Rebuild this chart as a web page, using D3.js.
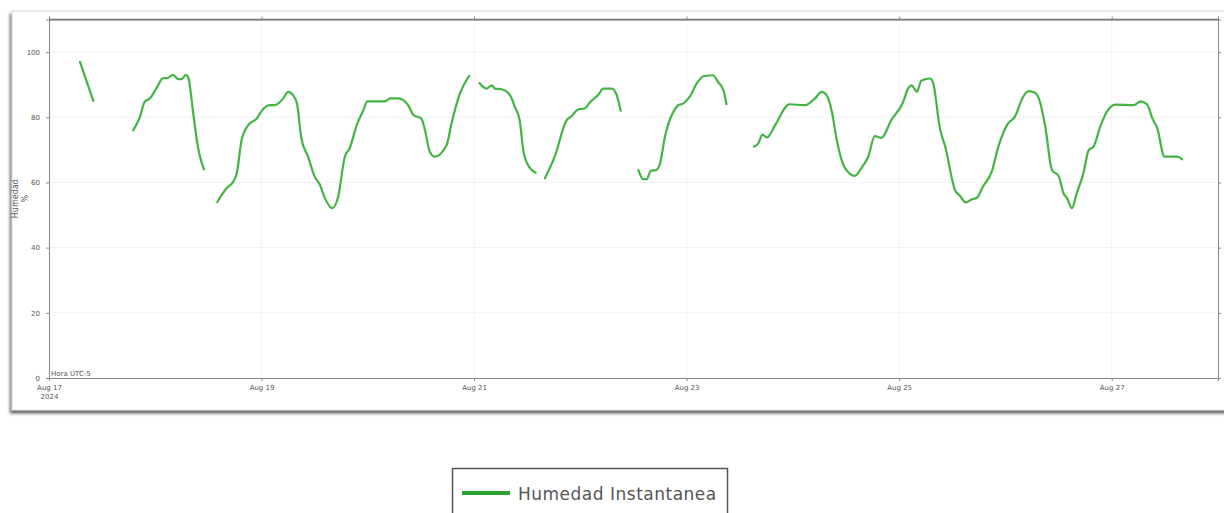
<!DOCTYPE html>
<html>
<head>
<meta charset="utf-8">
<script src="https://cdn.jsdelivr.net/npm/d3@7"></script>
<style>
    body { margin: 0; background: #fff; }
    svg { display: block; font-family: "DejaVu Sans", Verdana, sans-serif; }
</style>
</head>
<body>
<svg id="chart" width="1224" height="513"></svg>
<script>
// hours after 2024-08-17 00:00 (UTC-5), null = gap in the record
var horas = [
    7, 8, 9, 10, 14,
    19, 20.5, 21.6, 22.8, 24.3, 25.8, 26.7, 28, 29.2, 29.9, 30.9, 31.4, 32.6, 33.5, 34.1, 35, 36.5,
    38, 40.1, 41.6, 42.4, 43.5, 45, 46.9, 48, 49.9, 51, 52.9, 54, 55.1, 56, 57, 58.5, 60, 61.2, 62.3, 64,
    65.3, 66.8, 67.9, 69.5, 71, 71.9, 75.9, 77, 78.9, 81.1, 82.3, 84.1, 84.9, 86, 87.1, 89.8, 90.9, 92.8, 94.9, 96,
    97.2, 98.8, 100, 100.7, 102.2, 104.1, 105.2, 106.3, 107.1, 108.2, 109.9, 111,
    112, 114.2, 116.9, 118, 119.5, 121, 122.2, 124, 125.2, 127.1, 128.2, 129.1, 131,
    133.1, 134.2, 135, 135.9, 137.1, 138, 139.1, 141, 142.1, 143.2, 144.7, 146.3, 147.8, 150, 151.1, 152.3, 153, 156,
    159.2, 160.2, 161.1, 162.1, 164, 167.2, 170.7, 173, 174.5, 175.6, 176.8, 177.9, 179.8, 182, 183.5, 185, 186.5, 188,
    190.2, 192.9, 194, 194.8, 196, 197, 199, 199.7, 201.2, 202.4, 204.6, 205.7, 207.1, 208.3, 209.5, 210.9, 212.9,
    214.4, 216.6, 218.1, 220, 221.2, 222.7, 223.8, 225, 226.5, 228, 229.1, 229.9, 231, 232.1, 233.6, 234.8, 235.9,
    237.4, 238.9, 240.8, 245, 246.5, 248, 249.2, 250.3, 251.9, 254.8, 255.9
];

var humedad = [
    97, 93, 89, 85, null,
    76, 80, 84.7, 85.8, 89, 92, 92, 93, 91.7, 91.7, 93, 92.4, 81, 72, 68, 64, null,
    54, 58.2, 60.2, 62.8, 73, 77.6, 79.6, 81.9, 83.7, 83.7, 85.8, 87.8, 86.8, 84.2, 73.5, 67.9, 61.8, 59.2, 55.2, 52.1,
    55.6, 67.9, 70.5, 77.6, 82.2, 84.9, 84.9, 85.8, 85.8, 83.7, 80.7, 79.6, 76.1, 69.4, 67.9, 71.5, 78.1, 87.3, 92.7, null,
    90.5, 88.8, 89.8, 88.8, 88.6, 86.8, 83.2, 79.1, 69.9, 65.3, 63, null,
    61.3, 67.9, 79.1, 80.3, 82.4, 82.7, 84.7, 86.8, 88.8, 88.8, 86.8, 82, null,
    63.8, 61, 61, 63.6, 63.8, 65.9, 74, 81.7, 83.7, 84.2, 86.3, 90.4, 92.6, 92.9, 90.8, 88.3, 84, null,
    71, 72, 74.7, 73.8, 77.6, 84, 83.7, 85.8, 87.8, 86.8, 81.7, 73, 64.3, 62, 64.5, 67.9, 74.2, 73.7,
    79.1, 84.7, 88.8, 89.8, 87.8, 91.2, 91.9, 90.4, 76.6, 71, 57.7, 55.9, 53.9, 54.8, 55.2, 58.7, 63.3,
    71, 78.1, 80.1, 86.3, 88, 87.5, 84.7, 77.1, 63.8, 62, 56.7, 55.2, 52.1, 56.7, 62.8, 69.9, 71,
    77.1, 81.7, 83.9, 83.7, 84.9, 83.9, 79.6, 76.6, 67.9, 67.9, 67.1
];

var yTicks = [0, 20, 40, 60, 80, 100];
var xTickDays = ["2024-08-17", "2024-08-19", "2024-08-21", "2024-08-23", "2024-08-25", "2024-08-27"];
var serieNombre = "Humedad Instantanea";
var ejeY = ["Humedad", "%"];
var notaHora = "Hora UTC-5";

function init() {
    var svg = d3.select('#chart');
    var plot = {left: 49, right: 1218, top: 19.5, bottom: 378};
    var inicio = Date.UTC(2024, 7, 17);

    var data = horas.map(function(h, i) {
        return {t: new Date(inicio + h * 3600e3), v: humedad[i]};
    });

    // outer panel with shadow
    var defs = svg.append("defs");
    var f = defs.append("filter").attr("id", "sombra")
        .attr("x", "-5%").attr("y", "-5%").attr("width", "110%").attr("height", "115%");
    f.append("feDropShadow")
        .attr("dx", -1.5).attr("dy", 3).attr("stdDeviation", 1.6)
        .attr("flood-color", "#333").attr("flood-opacity", 0.75);

    svg.append("rect")
        .attr("x", 12).attr("y", 11)
        .attr("width", 1250).attr("height", 399)
        .attr("fill", "#fff")
        .attr("stroke", "#d4d4d4")
        .attr("filter", "url(#sombra)");

    var x = d3.scaleUtc()
        .domain([new Date(inicio), new Date(Date.UTC(2024, 7, 28))])
        .range([plot.left, plot.right]);

    var y = d3.scaleLinear()
        .domain([0, 110])
        .range([plot.bottom, plot.top]);

    var tickDates = xTickDays.map(function(s) { return new Date(s + "T00:00:00Z"); });

    // grid
    var grid = svg.append("g");
    grid.selectAll(".gy").data(yTicks).enter().append("line")
        .attr("x1", plot.left).attr("x2", plot.right)
        .attr("y1", function(d) { return y(d); })
        .attr("y2", function(d) { return y(d); })
        .attr("stroke", "#f2f2f2");
    grid.selectAll(".gx").data(tickDates).enter().append("line")
        .attr("y1", plot.top).attr("y2", plot.bottom)
        .attr("x1", function(d) { return x(d); })
        .attr("x2", function(d) { return x(d); })
        .attr("stroke", "#f2f2f2");

    // axes
    var fmt = d3.utcFormat("%b %-d");
    var xAxis = d3.axisBottom(x)
        .tickValues(tickDates)
        .tickSize(3)
        .tickPadding(4)
        .tickFormat(fmt);

    var gx = svg.append("g")
        .attr("class", "axis")
        .attr("transform", "translate(0," + plot.bottom + ")")
        .call(xAxis);
    gx.selectAll("text").filter(function(d, i) { return i === 0; })
        .append("tspan").attr("x", 0).attr("dy", "1.25em").text("2024");

    svg.append("g")
        .attr("class", "axis")
        .attr("transform", "translate(0," + plot.top + ")")
        .call(d3.axisTop(x).tickValues(tickDates).tickSize(3).tickFormat(""));

    svg.append("g")
        .attr("class", "axis")
        .attr("transform", "translate(" + plot.left + ",0)")
        .call(d3.axisLeft(y).tickValues(yTicks).tickSize(3).tickPadding(6));

    svg.append("g")
        .attr("class", "axis")
        .attr("transform", "translate(" + plot.right + ",0)")
        .call(d3.axisRight(y).tickValues(yTicks).tickSize(3).tickFormat(""));

    svg.selectAll(".axis path").attr("stroke", "#8a8a8a");
    svg.selectAll(".axis line").attr("stroke", "#8a8a8a");
    svg.selectAll(".axis text").attr("font-size", 7).attr("fill", "#555")
        .attr("font-family", "DejaVu Sans, Verdana, sans-serif");

    // top border a bit darker
    svg.append("line")
        .attr("x1", plot.left).attr("x2", plot.right)
        .attr("y1", plot.top).attr("y2", plot.top)
        .attr("stroke", "#777").attr("stroke-width", 1.3);

    // y label
    var yl = svg.append("text")
        .attr("transform", "translate(18," + ((plot.top + plot.bottom) / 2) + ") rotate(-90)")
        .attr("text-anchor", "middle")
        .attr("font-size", 8)
        .attr("fill", "#555");
    yl.append("tspan").attr("x", 0).attr("dy", 0).text(ejeY[0]);
    yl.append("tspan").attr("x", 0).attr("dy", "1.2em").text(ejeY[1]);

    svg.append("text")
        .attr("x", plot.left + 2).attr("y", plot.bottom - 2.5)
        .attr("font-size", 7).attr("fill", "#555")
        .text(notaHora);

    // series
    var line = d3.line()
        .defined(function(d) { return d.v !== null; })
        .x(function(d) { return x(d.t); })
        .y(function(d) { return y(d.v); })
        .curve(d3.curveMonotoneX);

    svg.append("path")
        .datum(data)
        .attr("fill", "none")
        .attr("stroke", "#42b442")
        .attr("stroke-width", 2.2)
        .attr("stroke-linejoin", "round")
        .attr("stroke-linecap", "round")
        .attr("d", line);

    // legend
    var lg = svg.append("g");
    lg.append("rect")
        .attr("x", 452.5).attr("y", 468.5)
        .attr("width", 275).attr("height", 70)
        .attr("fill", "#fff")
        .attr("stroke", "#555").attr("stroke-width", 1.5);
    lg.append("line")
        .attr("x1", 462).attr("x2", 510)
        .attr("y1", 493).attr("y2", 493)
        .attr("stroke", "#2ca52c").attr("stroke-width", 4);
    lg.append("text")
        .attr("x", 518).attr("y", 499.5)
        .attr("font-size", 17).attr("fill", "#555")
        .attr("letter-spacing", 0.5)
        .text(serieNombre);
}

init();
</script>
</body>
</html>
